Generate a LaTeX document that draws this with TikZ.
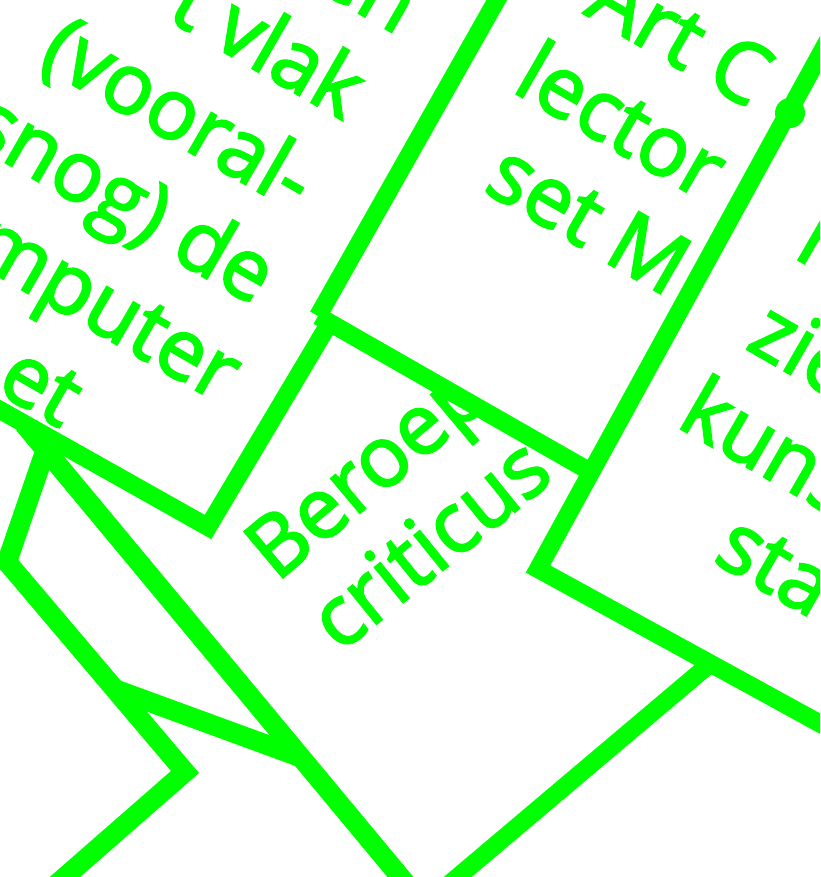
\documentclass[tikz,border=0pt]{standalone}
\usepackage{fontspec}
\newfontfamily\labelfont{Open Sans}[FakeBold=2.5]
\definecolor{neon}{HTML}{00FF00}
\newcommand\optfont{\labelfont\fontsize{84pt}{100pt}\selectfont}
\tikzset{
  txt/.style={text=neon, font=\optfont, inner sep=0pt},
  frame/.style={draw=neon, line width=18pt, line join=miter},
  wire/.style={draw=neon, line width=20pt, line join=miter}
}
\begin{document}
\begin{tikzpicture}[x=1pt,y=-1pt]
\useasboundingbox (0,0) rectangle (820,877);
\fill[white] (0,0) rectangle (820,877);
\clip (0,0) rectangle (820,877);

% frame corner points
\coordinate (a1t) at (508,-20);
\coordinate (a1b) at (318,316);
\coordinate (a2t) at (330,322);
\coordinate (lc) at (208,527);
\coordinate (l4e) at (-20,398.75);
\coordinate (bE) at (591.7,472.5);
\coordinate (ct) at (861,-20);
\coordinate (cb) at (538,569);
\coordinate (brE) at (850,740);
\coordinate (dj) at (710.4,663.4);
\coordinate (dE) at (434,897);

% left box text
\begin{scope}
\clip (-20,-20) -- (a1t) -- (a1b) -- (a2t) -- (lc) -- (l4e) -- cycle;
\node[txt, rotate=-30, anchor=base east] (t1) at (397.5,35.5) {en};
\node[txt, rotate=-30, anchor=base east] (t2) at (343.5,121) {t vlak};
\node[txt, rotate=-30, anchor=base east] (t3) at (293.3,212) {(vooral-};
\node[txt, rotate=-30, anchor=base east] (t4) at (254,306) {snog) de};
\node[txt, rotate=-30, anchor=base east] (t5) at (219.5,403.8) {mputer};
\node[txt, rotate=-30, anchor=base east] (t6) at (60.7,428.8) {et};
\end{scope}

% lector box text
\begin{scope}
\clip (a1t) -- (a1b) -- (bE) -- (ct) -- cycle;
\node[txt, rotate=-30, anchor=base west] (m1) at (582.5,13) {Art C};
\node[txt, rotate=-30, anchor=base west] (m2) at (510.2,90.2) {lector};
\node[txt, rotate=-30, anchor=base west] (m3) at (481.4,190.2) {set M};
\end{scope}

% right box text
\begin{scope}
\clip (ct) -- (cb) -- (brE) -- (850,-20) -- cycle;
\node[txt, rotate=-30, anchor=base west] (r1) at (792,256.3) {r};
\node[txt, rotate=-30, anchor=base west] (r2) at (743.9,347.5) {zie};
\node[txt, rotate=-30, anchor=base west] (r3) at (674.7,425.3) {kuns};
\node[txt, rotate=-30, anchor=base west] (r4) at (711,560.6) {sta};
\end{scope}

% Beroep criticus
\begin{scope}
\clip (200,247) -- (bE) -- (480,900) -- (100,900) -- cycle;
\node[txt, rotate=40, anchor=base west] (b1) at (276.5,583) {Beroep};
\node[txt, rotate=39, anchor=base west] (b2) at (339.7,653.7) {criticus};
\end{scope}

% frame lines
\draw[frame] (a1t) -- (a1b);
\draw[frame] (a1b) -- (bE);
\draw[frame] (a2t) -- (lc) -- (l4e);
\draw[frame] (ct) -- (cb) -- (brE);
\draw[frame] (dj) -- (dE);
\fill[neon] (790,113) circle (15pt);

% lower-left wires
\coordinate (j1) at (24,424);
\coordinate (j1e) at (417,897);
\coordinate (j2) at (49,440);
\coordinate (k0) at (7,562);
\coordinate (k1) at (185,772);
\coordinate (k2) at (42,897);
\coordinate (m0) at (117,690);
\coordinate (m1e) at (300,757);
\draw[wire] (j1) -- (j1e);
\draw[wire] (j2) -- (k0) -- (k1) -- (k2);
\draw[wire] (m0) -- (m1e);
\end{tikzpicture}
\end{document}
